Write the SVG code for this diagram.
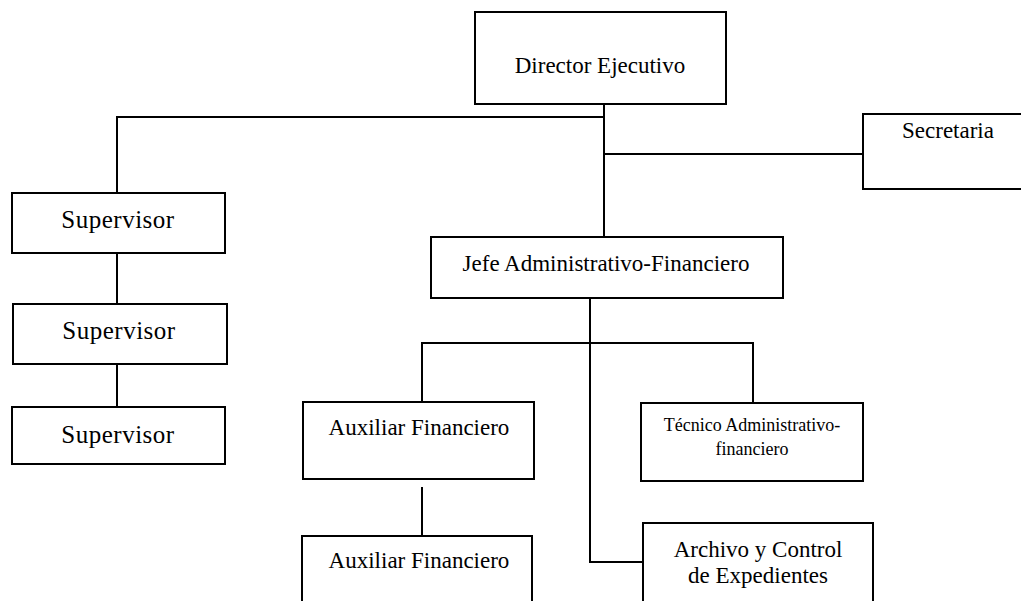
<svg xmlns="http://www.w3.org/2000/svg" width="1021" height="601" viewBox="0 0 1021 601">
<style>
.box{fill:#fff;stroke:#000;stroke-width:2}
.ln{fill:none;stroke:#000;stroke-width:2}
.t{font-family:"Liberation Serif","Times New Roman",serif;font-size:23px;fill:#000;text-anchor:middle}
.s{font-family:"Liberation Serif","Times New Roman",serif;font-size:25px;letter-spacing:0.5px;fill:#000;text-anchor:middle}
.sm{font-family:"Liberation Serif","Times New Roman",serif;font-size:18px;fill:#000;text-anchor:middle}
</style>
<rect width="1021" height="601" fill="#fff"/>
<g id="connectors">
<path class="ln" d="M604,104 V237"/>
<path class="ln" d="M604,117 H117 V193"/>
<path class="ln" d="M604,154 H863"/>
<path class="ln" d="M117,253 V304"/>
<path class="ln" d="M117,364 V407"/>
<path class="ln" d="M590,298 V562 H643"/>
<path class="ln" d="M422,402 V343 H753 V403"/>
<path class="ln" d="M422,487 V536"/>
</g>
<g id="director">
<rect class="box" x="475" y="12" width="251" height="92"/>
<text class="t" x="600" y="73">Director Ejecutivo</text>
</g>
<g id="secretaria">
<rect class="box" x="863" y="114" width="170" height="75"/>
<text class="t" x="948" y="138">Secretaria</text>
</g>
<g id="supervisor1">
<rect class="box" x="12" y="193" width="213" height="60"/>
<text class="s" x="118" y="228">Supervisor</text>
</g>
<g id="supervisor2">
<rect class="box" x="13" y="304" width="214" height="60"/>
<text class="s" x="119" y="339">Supervisor</text>
</g>
<g id="supervisor3">
<rect class="box" x="12" y="407" width="213" height="57"/>
<text class="s" x="118" y="443">Supervisor</text>
</g>
<g id="jefe">
<rect class="box" x="431" y="237" width="352" height="61"/>
<text class="t" x="606" y="271">Jefe Administrativo-Financiero</text>
</g>
<g id="auxiliar1">
<rect class="box" x="303" y="402" width="231" height="77"/>
<text class="t" x="419" y="435">Auxiliar Financiero</text>
</g>
<g id="auxiliar2">
<rect class="box" x="302" y="536" width="230" height="80"/>
<text class="t" x="419" y="568">Auxiliar Financiero</text>
</g>
<g id="tecnico">
<rect class="box" x="641" y="403" width="222" height="78"/>
<text class="sm" x="752" y="431">Técnico Administrativo-</text>
<text class="sm" x="752" y="455">financiero</text>
</g>
<g id="archivo">
<rect class="box" x="643" y="523" width="230" height="90"/>
<text class="t" x="758" y="557">Archivo y Control</text>
<text class="t" x="758" y="583">de Expedientes</text>
</g>
</svg>
